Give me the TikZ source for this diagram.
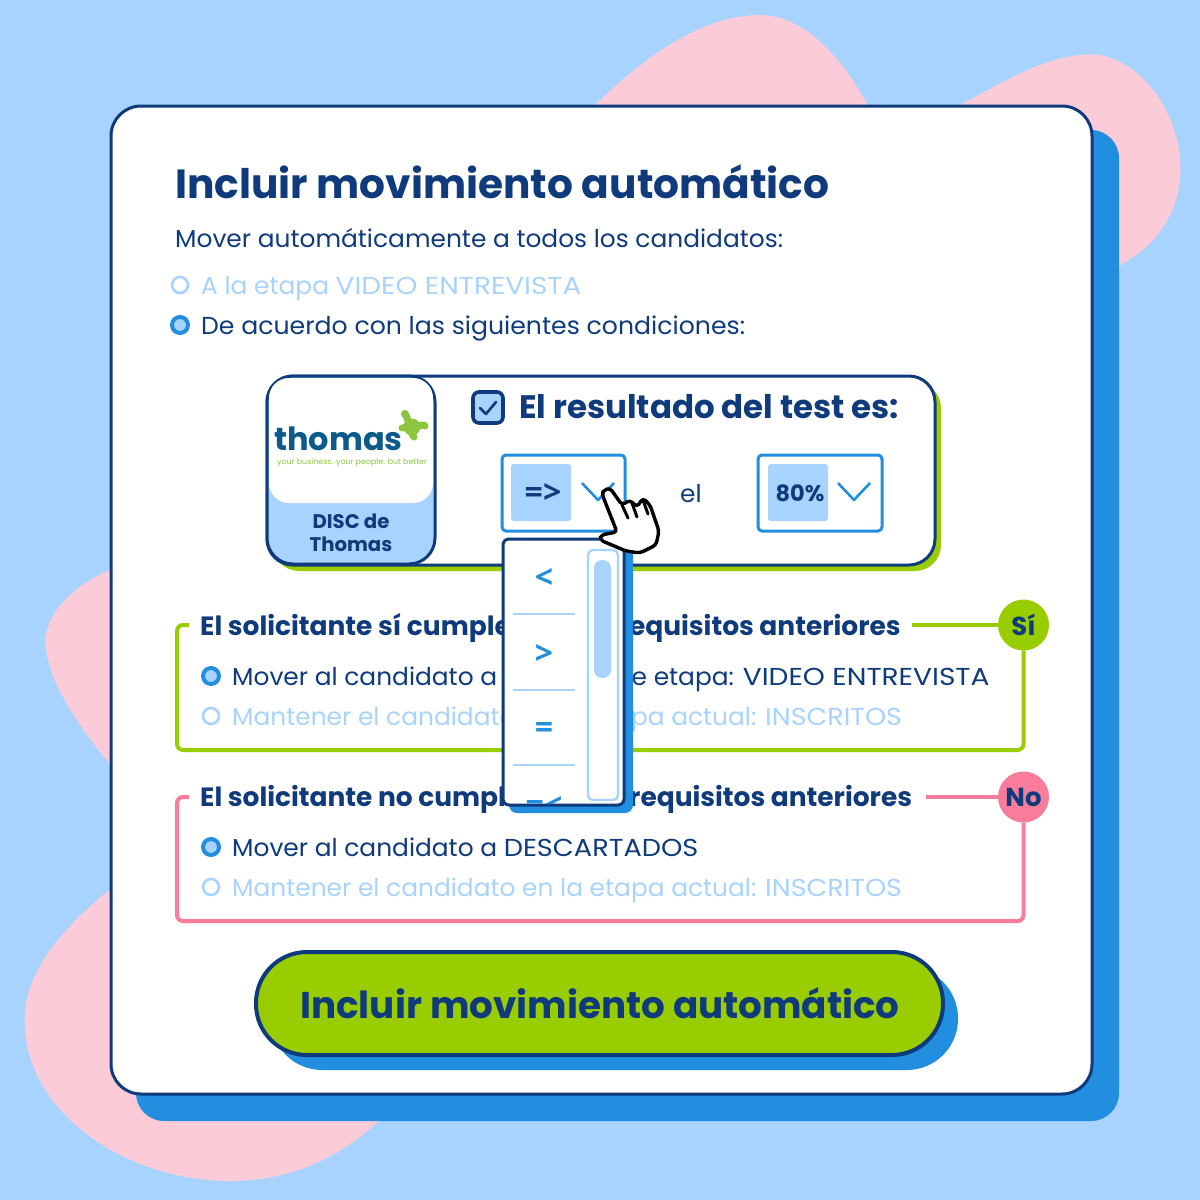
\documentclass[tikz,border=0pt]{standalone}
\usepackage{fontspec}
\setmainfont{Poppins}[FakeStretch=1.015, BoldFont={Poppins Bold}, BoldFeatures={FakeStretch=1.0}]
\newfontfamily\opfont{Open Sans}
\newfontfamily\logofont{Poppins Bold}
\usetikzlibrary{positioning}
\definecolor{navy}{HTML}{0F3B7C}
\definecolor{azul}{HTML}{228EE0}
\definecolor{celeste}{HTML}{A8D3FF}
\definecolor{verde}{HTML}{9ACD00}
\definecolor{rosa}{HTML}{F97C9B}
\definecolor{blob}{HTML}{FBCCD8}
\definecolor{logoazul}{HTML}{0B5A8C}
\definecolor{logoverde}{HTML}{8CC63F}
\newcommand{\fsz}[1]{\fontsize{#1}{#1}\selectfont}
\newcommand{\ancho}[2]{{\addfontfeatures{FakeStretch=#1}#2}}
\tikzset{
  txt/.style={inner sep=0, anchor=base west, text=navy, font=\fsz{24.5}},
  off/.style={txt, text=celeste},
  head/.style={txt, font=\fsz{26.45}\bfseries},
  radio/.style={circle, draw=celeste, line width=2.6pt, minimum size=16pt, inner sep=0, fill=white},
  radioon/.style={radio, draw=azul, fill=celeste, line width=4pt},
  selbox/.style={draw=azul, line width=3pt, rounded corners=4pt, fill=white},
  badge/.style={circle, minimum size=51pt, inner sep=0, text=navy, font=\fsz{26}\bfseries},
  optn/.style={inner sep=0, text=azul, font=\fsz{32}\opfont\bfseries},
}
\begin{document}
\begin{tikzpicture}[x=1pt, y=-1pt, line join=round]
  \useasboundingbox (0,0) rectangle (1200,1200);
  \fill[celeste] (0,0) rectangle (1200,1200);
  % blobs
  \fill[blob] (590,110) .. controls (640,60) and (700,15) .. (760,15) .. controls (810,15) and (850,70) .. (870,110) -- cycle;
  \fill[blob] (950,110) .. controls (1000,85) and (1050,50) .. (1100,55) .. controls (1150,65) and (1185,125) .. (1180,180) .. controls (1175,225) and (1145,255) .. (1110,270) -- cycle;
  \fill[blob] (115,568) .. controls (70,585) and (40,620) .. (46,650) .. controls (52,690) and (85,735) .. (115,770) -- cycle;
  \fill[blob] (115,885) .. controls (60,930) and (20,975) .. (25,1030) .. controls (30,1110) and (120,1180) .. (230,1181) .. controls (300,1181) and (350,1150) .. (385,1115) -- cycle;
  % card
  \fill[azul, rounded corners=28pt] (136,130) rectangle (1119,1121);
  \draw[navy, line width=3pt, fill=white, rounded corners=30pt] (111,106) rectangle (1092,1094);
  \node[txt, font=\fsz{40.7}\bfseries] (titulo) at (175,198) {Incluir movimiento automático};
  \node[txt] (subtitulo) at (175,247) {Mover automáticamente a todos los candidatos:};
  \node[radio] (radioA) at (180,285) {};
  \node[off] (etapa) at (201,294) {A la etapa \ancho{1.14}{VIDEO ENTREVISTA}};
  \node[radioon] (radioB) at (180,325) {};
  \node[txt] (condiciones) at (201,334) {\ancho{1.027}{De acuerdo con las siguientes condiciones:}};
  % test
  \fill[verde, rounded corners=26pt] (273,382) rectangle (941,571);
  \draw[navy, line width=3pt, fill=white, rounded corners=26pt] (267,376) rectangle (935,565);
  \draw[navy, line width=3pt, fill=celeste, rounded corners=26pt] (267,376) rectangle (435,564);
  \fill[white, rounded corners=20pt] (269,378) -- (433,378) -- (433,503) -- (269,503) -- cycle;
  \node[inner sep=0, anchor=base west, text=logoazul, font=\fsz{32}\logofont] (logo) at (274,450) {thomas};
  \node[inner sep=0, anchor=base west, text=logoverde, font=\fsz{7.8}] (lema) at (277,464) {your business. your people. but better};
  \begin{scope}[logoverde, line width=7pt, line cap=round]
    \draw (402,428) -- (424,425);
    \draw (406,415) -- (413,436);
    \fill (412,427) circle (8.5pt);
    \fill (405,414) circle (4pt) (425,426) circle (3.5pt) (414,437) circle (3.5pt);
  \end{scope}
  \node[inner sep=0, align=center, text=navy, font=\fsz{19.7}\bfseries] (disc) at (351,533) {DISC de\\[3pt]Thomas};
  \draw[navy, line width=3.6pt, fill=celeste, rounded corners=6pt] (473,392) rectangle (503,423);
  \draw[navy, line width=2.6pt, line cap=round] (480,408) -- (486,414) -- (496,402);
  \node[txt, font=\fsz{32.5}\bfseries] (resultado) at (519,418) {El resultado del test es:};
  \draw[selbox] (502,455) rectangle (625,531);
  \fill[celeste, rounded corners=3pt] (511,464) rectangle (571,521);
  \node[inner sep=0, text=navy, font=\fsz{32}\opfont\bfseries] (mayor) at (543,493) {=>};
  \draw[azul, line width=2.6pt] (582,483) -- (598,500) -- (614,483);
  \node[txt] (el) at (680,502) {el};
  \draw[selbox] (758,455) rectangle (882,531);
  \fill[celeste, rounded corners=3pt] (768,464) rectangle (828,521);
  \node[inner sep=0, text=navy, font=\fsz{22.5}\bfseries] (valor) at (800,493) {80\%};
  \draw[azul, line width=2.6pt] (838,483) -- (854,500) -- (870,483);
  % si
  \node[head] (si) at (200,635) {El solicitante sí cumple con los requisitos anteriores};
  \node[badge, fill=verde] (badgeSi) at (1023.5,625) {Sí};
  \draw[verde, line width=4pt, rounded corners=6pt] (189,625) -- (177,625) -- (177,750) -| (badgeSi.south);
  \draw[verde, line width=4pt] (912,625) -- (badgeSi.west);
  \node[radioon] (radioC) at (211,676) {};
  \node[txt] (moverSi) at (232,685) {Mover al candidato a la siguiente etapa: \ancho{1.145}{VIDEO ENTREVISTA}};
  \node[radio] (radioD) at (211,716) {};
  \node[off] (mantenerSi) at (232,725) {Mantener el candidato en la etapa actual: \ancho{1.1}{INSCRITOS}};
  % no
  \node[head] (no) at (200,806) {El solicitante no cumple con los requisitos anteriores};
  \node[badge, fill=rosa] (badgeNo) at (1023.5,797) {No};
  \draw[rosa, line width=4pt, rounded corners=6pt] (189,797) -- (177,797) -- (177,921) -| (badgeNo.south);
  \draw[rosa, line width=4pt] (926,797) -- (badgeNo.west);
  \node[radioon] (radioE) at (211,847) {};
  \node[txt] (moverNo) at (232,856) {Mover al candidato a \ancho{1.11}{DESCARTADOS}};
  \node[radio] (radioF) at (211,887) {};
  \node[off] (mantenerNo) at (232,896) {Mantener el candidato en la etapa actual: \ancho{1.1}{INSCRITOS}};
  % boton
  \fill[azul, rounded corners=51pt] (271,967) rectangle (958,1070);
  \draw[navy, line width=4pt, fill=verde, rounded corners=51pt] (256,952) rectangle (943,1055);
  \node[inner sep=0, text=navy, font=\fsz{37.3}\bfseries] (boton) at (600,1003) {Incluir movimiento automático};
  % lista
  \fill[azul, rounded corners=8pt] (509,545) rectangle (633,813);
  \draw[navy, line width=3pt, fill=white, rounded corners=6pt] (503,539) rectangle (624,805);
  \begin{scope}
    \clip (505,541) rectangle (622,803);
    \node[optn] (menor) at (544,578) {<};
    \node[optn] (mas) at (544,654) {>};
    \node[optn] (igual) at (544,730) {=};
    \node[optn] (menorigual) at (544,806) {=<};
  \end{scope}
  \foreach \yy in {614,690,765}
    \draw[celeste, line width=2pt] (513,\yy) -- (575,\yy);
  \draw[celeste, line width=2.4pt, fill=white, rounded corners=5pt] (588,550) rectangle (618,800);
  \fill[celeste, rounded corners=8pt] (594,560) rectangle (611,678);
  % mano
  \draw[black, fill=white, line width=3.4pt, rounded corners=3.5pt] (604,490) -- (610,488) -- (622,505) -- (630,500) -- (637,507) -- (643,498) -- (650,505) -- (659,531) -- (656,545) -- (640,553) -- (626,551) -- (600,540) -- (601,535) -- (617,532) -- (602,494) -- cycle;
  \draw[black, line width=3pt, line cap=round] (622,505) -- (628,518) (632,503) -- (637,517) (643,500) -- (648,514);
\end{tikzpicture}
\end{document}
